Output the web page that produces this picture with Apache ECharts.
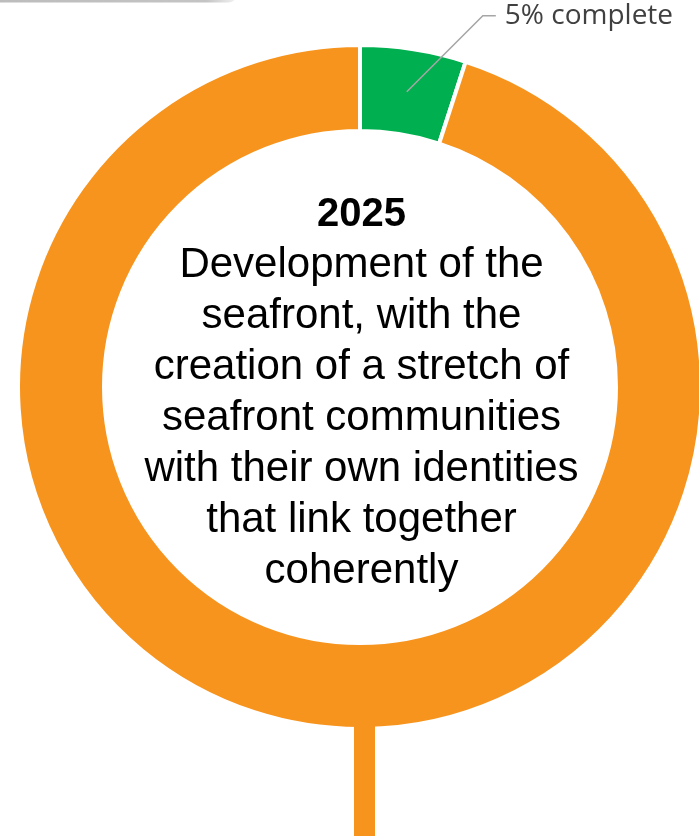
<!DOCTYPE html>
<html>
<head>
<meta charset="utf-8">
<style>
  html, body { margin: 0; padding: 0; background: #ffffff; }
  #chart { width: 699px; height: 836px; }
</style>
<script src="https://cdn.jsdelivr.net/npm/echarts@6/dist/echarts.min.js"></script>
</head>
<body>
<div id="chart"></div>
<script>
// Progress of the 2025 seafront goal
const categories = ['complete', 'remaining'];
const progressValues = [5, 95];
const segmentColors = ['#00B050', '#F7941E'];
const completeLabel = '5% complete';
const goalYear = '2025';
const goalLines = [
  'Development of the',
  'seafront, with the',
  'creation of a stretch of',
  'seafront communities',
  'with their own identities',
  'that link together',
  'coherently'
];

const CX = 360, CY = 387;
const chart = echarts.init(document.getElementById('chart'), null, { renderer: 'canvas' });

const ringData = categories.map((name, i) => ({
  name: name,
  value: progressValues[i],
  itemStyle: { color: segmentColors[i] }
}));

// transparent twin pie, used only to anchor the callout at mid-ring
const calloutData = categories.map((name, i) => ({
  name: name,
  value: progressValues[i],
  label: { show: i === 0 },
  labelLine: { show: i === 0 }
}));

const centerText = '{y|' + goalYear + '}\n' + goalLines.map(l => '{b|' + l + '}').join('\n');

chart.setOption({
  animation: false,
  backgroundColor: '#ffffff',
  graphic: [
    {
      type: 'rect',
      z: 0,
      shape: { x: -10, y: -12, width: 246, height: 14.5, r: 8 },
      style: {
        fill: new echarts.graphic.LinearGradient(0, 0, 1, 0, [
          { offset: 0, color: '#bcbcbc' },
          { offset: 0.88, color: '#c4c4c4' },
          { offset: 1, color: '#f2f2f2' }
        ])
      }
    },
    {
      type: 'rect',
      z: 100,
      shape: { x: 354, y: 715, width: 21, height: 130 },
      style: { fill: segmentColors[1] }
    },
    {
      type: 'text',
      z: 100,
      x: 361.5,
      y: 393,
      style: {
        text: centerText,
        align: 'center',
        verticalAlign: 'middle',
        rich: {
          y: { fontFamily: 'Liberation Sans', fontWeight: 'bold', fontSize: 40, lineHeight: 51, fill: '#000000', align: 'center' },
          b: { fontFamily: 'Liberation Sans', fontSize: 42, lineHeight: 51, fill: '#000000', align: 'center' }
        }
      }
    }
  ],
  series: [
    {
      type: 'pie',
      z: 2,
      center: [CX, CY],
      radius: [256, 342],
      startAngle: 90,
      clockwise: true,
      silent: true,
      label: { show: false },
      labelLine: { show: false },
      itemStyle: { borderColor: '#ffffff', borderWidth: 4 },
      emphasis: { disabled: true },
      data: ringData
    },
    {
      type: 'pie',
      z: 10,
      center: [CX, CY],
      radius: [0, 299],
      startAngle: 90,
      clockwise: true,
      silent: true,
      avoidLabelOverlap: false,
      itemStyle: { color: 'rgba(0,0,0,0)' },
      emphasis: { disabled: true },
      label: {
        position: 'outside',
        formatter: () => completeLabel,
        fontFamily: 'Open Sans',
        fontSize: 28,
        color: '#404040',
        distanceToLabelLine: 9
      },
      labelLine: {
        length: 77,
        length2: 77,
        lineStyle: { color: '#A6A6A6', width: 1.5 }
      },
      labelLayout: function (params) {
        const pts = params.labelLinePoints;
        if (!pts || pts.length < 3) return {};
        const p0 = pts[0], p2 = pts[2];
        const rise = p0[1] - p2[1];
        return { labelLinePoints: [p0, [p0[0] + rise, p2[1]], p2] };
      },
      data: calloutData
    }
  ]
});
</script>
</body>
</html>
